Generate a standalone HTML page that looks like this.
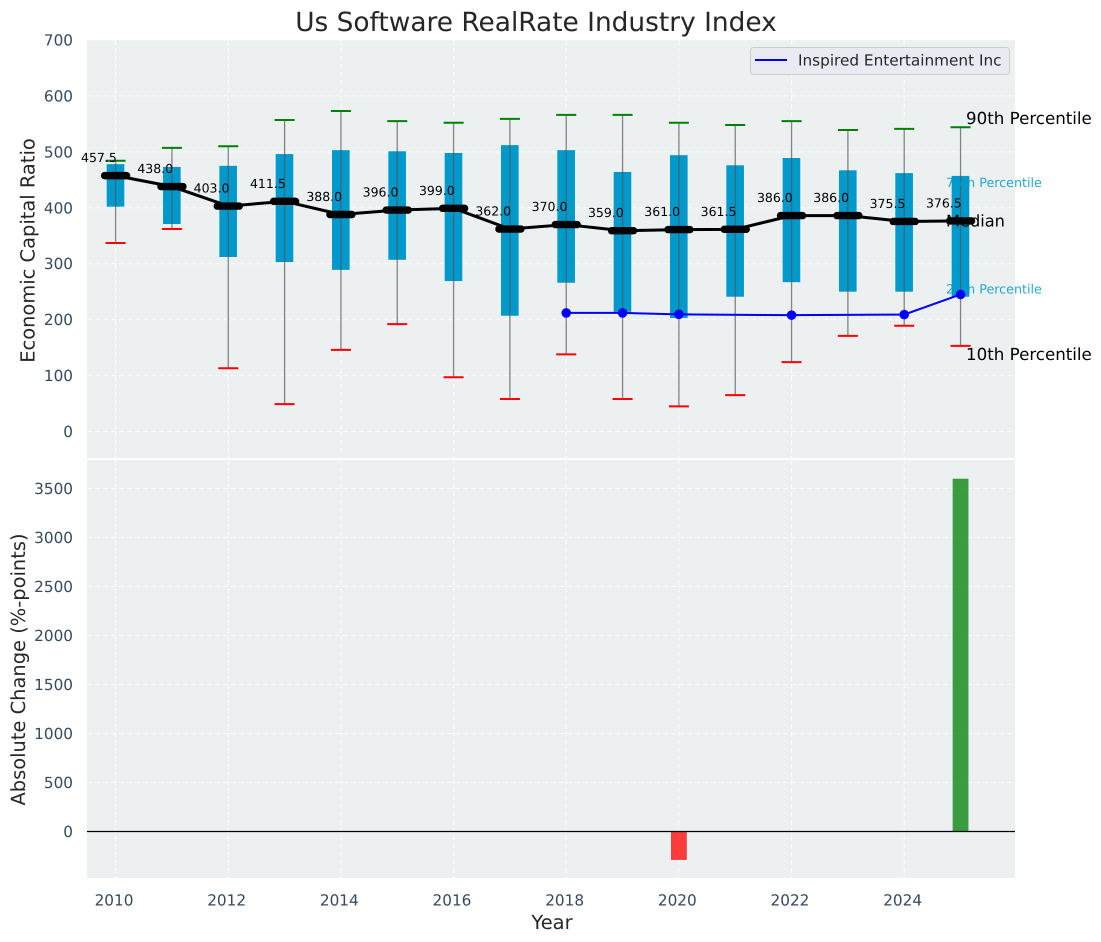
<!DOCTYPE html>
<html>
<head>
<meta charset="utf-8">
<title>Us Software RealRate Industry Index</title>
<style>
html,body{margin:0;padding:0;background:#fff;}
svg{display:block;font-family:"DejaVu Sans","Liberation Sans",sans-serif;text-rendering:geometricPrecision;}
</style>
</head>
<body>
<svg id="chart" width="1101" height="942" viewBox="0 0 1101 942" xmlns="http://www.w3.org/2000/svg">
  <text x="536" y="31" text-anchor="middle" font-size="26.4" fill="#262626">Us Software RealRate Industry Index</text>
  <rect x="87" y="40" width="928" height="418" fill="#ecf0f1"/>
  <rect x="87" y="460" width="928" height="418" fill="#ecf0f1"/>
  <g id="grid"></g>
  <g id="bars"></g>
  <g id="boxes"></g>
  <g id="whiskers"></g>
  <g id="annotations"></g>
  <g id="median"></g>
  <g id="company"></g>
  <g id="ticks"></g>
  <text transform="translate(34.5,250.5) rotate(-90)" text-anchor="middle" font-size="19.44" fill="#262626">Economic Capital Ratio</text>
  <text transform="translate(25,669.5) rotate(-90)" text-anchor="middle" font-size="19.44" fill="#262626">Absolute Change (%-points)</text>
  <text x="552" y="929" text-anchor="middle" font-size="19.44" fill="#262626">Year</text>
  <g>
    <rect x="750.5" y="47.5" width="259" height="27" rx="3" fill="#eaeaf2" stroke="#cccccc" stroke-width="1"/>
    <line x1="755" y1="60" x2="787" y2="60" stroke="#0000ff" stroke-width="2"/>
    <text x="798" y="65.5" font-size="15.28" fill="#262626">Inspired Entertainment Inc</text>
  </g>
</svg>
<script>
const years = [2010,2011,2012,2013,2014,2015,2016,2017,2018,2019,2020,2021,2022,2023,2024,2025];
const p90 = [484,507,510,557,573,555,552,559,566,566,552,548,555,539,541,544];
const p75 = [478,473,475,496,503,501,498,512,503,464,494,476,489,467,462,457];
const medians = [457.5,438.0,403.0,411.5,388.0,396.0,399.0,362.0,370.0,359.0,361.0,361.5,386.0,386.0,375.5,376.5];
const p25 = [402,371,312,303,289,307,269,207,266,214,203,241,267,250,250,241];
const p10 = [337,362,113,49,146,192,97,58,138,58,45,65,124,171,189,153];
const companyYears = [2018,2019,2020,2022,2024,2025];
const companyValues = [212,212,209.5,208,209,245];
const changeYears = [2020,2025];
const changeValues = [-290,3600];
const xTickLabels = [2010,2012,2014,2016,2018,2020,2022,2024];
const topYTicks = [0,100,200,300,400,500,600,700];
const bottomYTicks = [0,500,1000,1500,2000,2500,3000,3500];

const NS = 'http://www.w3.org/2000/svg';
function xScale(v){ return 115.6 + (v - 2010) * 56.33; }
function yTop(v){ return 431.5 - v * 0.5593; }
function yBottom(v){ return 831.5 - v * 0.098; }
function make(parentId, tag, attrs, text){
  const el = document.createElementNS(NS, tag);
  for (const k in attrs) el.setAttribute(k, attrs[k]);
  if (text !== undefined) el.textContent = text;
  document.getElementById(parentId).appendChild(el);
  return el;
}
const gridDash = '5 3';

xTickLabels.forEach(function(t){
  const a = make('grid','line',{x1:xScale(t),x2:xScale(t),y1:40,y2:458,stroke:'#fff','stroke-width':1,'stroke-dasharray':gridDash,opacity:0.85});
  
  
  const b = make('grid','line',{x1:xScale(t),x2:xScale(t),y1:460,y2:878,stroke:'#fff','stroke-width':1,'stroke-dasharray':gridDash,opacity:0.85});
  
  
  const l = make('ticks','text',{x:xScale(t)-1.6,y:905.5,'text-anchor':'middle','font-size':15.28,fill:'#34495e'},String(t));
  
  
});
topYTicks.forEach(function(t){
  const g = make('grid','line',{x1:87,x2:1015,y1:yTop(t),y2:yTop(t),stroke:'#fff','stroke-width':1,'stroke-dasharray':gridDash,opacity:0.85});
  
  
  const l = make('ticks','text',{x:73,y:yTop(t)+5.5,'text-anchor':'end','font-size':15.28,fill:'#34495e'},String(t));
  
  
});
bottomYTicks.forEach(function(t){
  const g = make('grid','line',{x1:87,x2:1015,y1:yBottom(t),y2:yBottom(t),stroke:'#fff','stroke-width':1,'stroke-dasharray':gridDash,opacity:0.85});
  
  
  const l = make('ticks','text',{x:73,y:yBottom(t)+5.5,'text-anchor':'end','font-size':15.28,fill:'#34495e'},String(t));
  
  
});

changeValues.forEach(function(v,i){
  const top = Math.min(yBottom(v), yBottom(0));
  const h = Math.abs(yBottom(v) - yBottom(0));
  const r = make('bars','rect',{x:xScale(changeYears[i])-7.9,y:top,width:15.8,height:h,fill:v<0?'#ff0000':'#008000',opacity:0.75});
  
  
});
const zero = make('bars','line',{x1:87,x2:1015,y1:yBottom(0),y2:yBottom(0),stroke:'#000','stroke-width':1.2});



years.forEach(function(yr,i){
  const x = xScale(yr);
  const box = make('boxes','rect',{x:x-8.9,y:yTop(p75[i]),width:17.6,height:yTop(p25[i])-yTop(p75[i]),fill:'#0099cc'});
  
  
  const w = make('whiskers','line',{x1:x,x2:x,y1:yTop(p90[i]),y2:yTop(p10[i]),stroke:'#555','stroke-width':1.3,opacity:0.7});
  
  
  const hi = make('whiskers','line',{x1:x-10,x2:x+10,y1:yTop(p90[i]),y2:yTop(p90[i]),stroke:'#008000','stroke-width':2});
  
  
  const lo = make('whiskers','line',{x1:x-10,x2:x+10,y1:yTop(p10[i]),y2:yTop(p10[i]),stroke:'#ff0000','stroke-width':2});
  
  
});

const medianPath = make('median','polyline',{points:years.map(function(yr,i){return xScale(yr)+','+yTop(medians[i]);}).join(' '),fill:'none',stroke:'#000','stroke-width':3,'stroke-linejoin':'round'});


years.forEach(function(yr,i){
  const x = xScale(yr), y = yTop(medians[i]);
  const m = make('median','line',{x1:x-11,x2:x+11,y1:y,y2:y,stroke:'#000','stroke-width':7.4,'stroke-linecap':'round'});
  
  
  const t = make('median','text',{x:x+1.2,y:y-13.5,'text-anchor':'end','font-size':12.5,fill:'#000'},medians[i].toFixed(1));
  
  
});

const companyPath = make('company','polyline',{points:companyYears.map(function(yr,i){return xScale(yr)+','+yTop(companyValues[i]);}).join(' '),fill:'none',stroke:'#0000ff','stroke-width':2});


companyYears.forEach(function(yr,i){
  const c = make('company','circle',{cx:xScale(yr),cy:yTop(companyValues[i]),r:4.8,fill:'#0000ff'});
  
  
});

const last = years.length - 1;
const lx = xScale(years[last]);
const a90 = make('annotations','text',{x:lx+5.5,y:yTop(p90[last])-3,'font-size':16.67,fill:'#000'},'90th Percentile');


const a75 = make('annotations','text',{x:lx-14.5,y:yTop(p75[last])+11,'font-size':12.7,fill:'#0099cc',opacity:0.85},'75th Percentile');


const a25 = make('annotations','text',{x:lx-14.5,y:yTop(p25[last])-3,'font-size':12.7,fill:'#0099cc',opacity:0.85},'25th Percentile');


const a10 = make('annotations','text',{x:lx+5.5,y:yTop(p10[last])+14,'font-size':16.67,fill:'#000'},'10th Percentile');


const aMed = make('annotations','text',{x:lx-14.5,y:yTop(medians[last])+5.5,'font-size':16.2,fill:'#000'},'Median');


</script>
</body>
</html>
